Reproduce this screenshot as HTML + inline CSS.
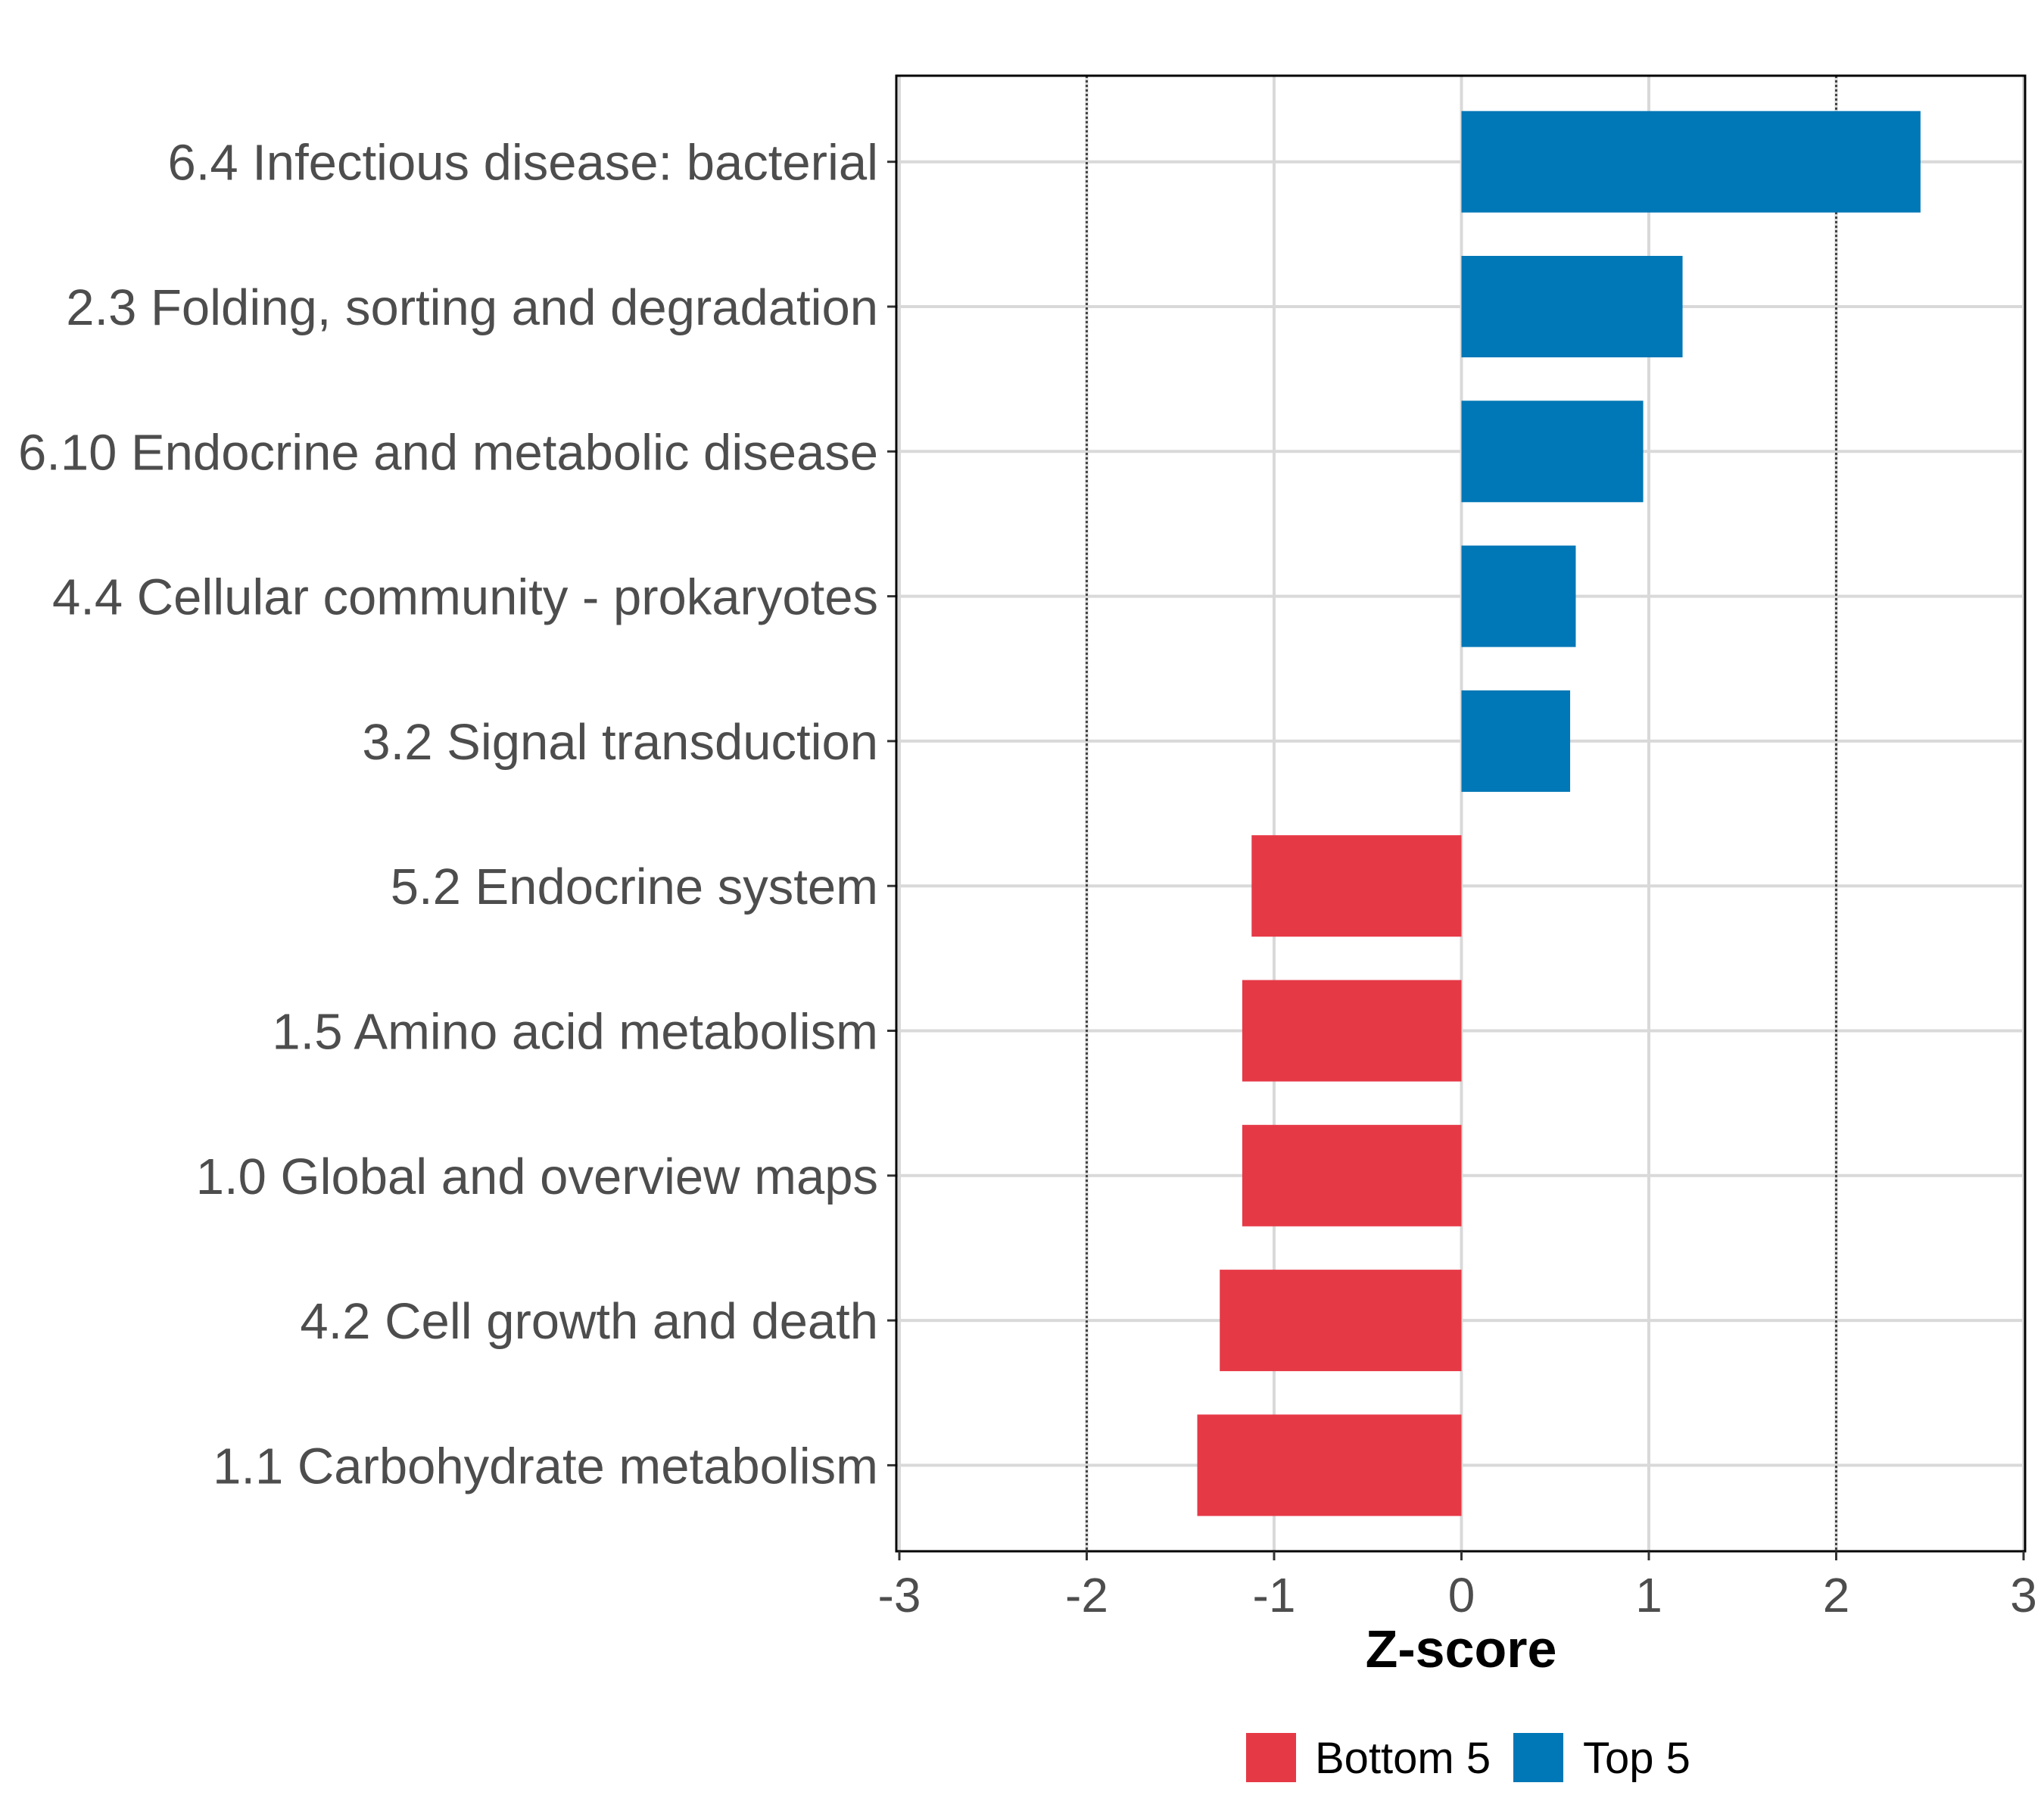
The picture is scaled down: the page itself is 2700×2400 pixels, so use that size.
<!DOCTYPE html>
<html><head><meta charset="utf-8"><style>
html,body{margin:0;padding:0;background:#fff}
svg{display:block}
text{font-family:"Liberation Sans",sans-serif}
</style></head><body>
<svg id="chart" width="2700" height="2400" viewBox="0 0 2700 2400" xmlns="http://www.w3.org/2000/svg">
<rect width="2700" height="2400" fill="#fff"/>
<g id="grid"></g>
<g id="bars"></g>
<g id="axes"></g>
<text x="1930" y="2202" font-size="70" font-weight="bold" text-anchor="middle" fill="#000">Z-score</text>
<g>
<rect x="1646" y="2289" width="66" height="65" fill="#E63946"/>
<text x="1737" y="2342" font-size="58" fill="#000">Bottom 5</text>
<rect x="1999" y="2289" width="66" height="65" fill="#0077B6"/>
<text x="2091" y="2342" font-size="58" fill="#000">Top 5</text>
</g>
</svg>
<script>
const categories = ["6.4 Infectious disease: bacterial","2.3 Folding, sorting and degradation","6.10 Endocrine and metabolic disease","4.4 Cellular community - prokaryotes","3.2 Signal transduction","5.2 Endocrine system","1.5 Amino acid metabolism","1.0 Global and overview maps","4.2 Cell growth and death","1.1 Carbohydrate metabolism"];
const values = [2.45, 1.18, 0.97, 0.61, 0.58, -1.12, -1.17, -1.17, -1.29, -1.41];
const groups = ["Top 5","Top 5","Top 5","Top 5","Top 5","Bottom 5","Bottom 5","Bottom 5","Bottom 5","Bottom 5"];
const xTicks = [-3, -2, -1, 0, 1, 2, 3];
const xTickLabels = ["-3","-2","-1","0","1","2","3"];
const dottedLines = [-2, 2];

const NS = "http://www.w3.org/2000/svg";
const PL = 1184, PR = 2675, PT = 100, PB = 2049;
const x = v => 1188 + (v + 3) * (2673 - 1188) / 6;
const y = i => 213.7 + i * 191.3;
const barH = 134;
function mk(tag, attrs, parent) {
  const e = document.createElementNS(NS, tag);
  for (const k in attrs) e.setAttribute(k, attrs[k]);
  parent.appendChild(e);
  return e;
}
const grid = document.getElementById('grid');
const bars = document.getElementById('bars');
const axes = document.getElementById('axes');
xTicks.forEach((t) => {
  const l = mk('line', {x1: x(t), x2: x(t), y1: PT, y2: PB, stroke: '#d9d9d9', 'stroke-width': 4}, grid);
  
  
});
categories.forEach((c, i) => {
  const l = mk('line', {x1: PL, x2: PR, y1: y(i), y2: y(i), stroke: '#d9d9d9', 'stroke-width': 4}, grid);
  
  
});
dottedLines.forEach(d => {
  const l = mk('line', {x1: x(d), x2: x(d), y1: PT, y2: PB, stroke: '#444', 'stroke-width': 3, 'stroke-dasharray': '3,3'}, grid);
  
  
});
categories.forEach((c, i) => {
  const v = values[i];
  const r = mk('rect', {x: Math.min(x(0), x(v)), y: y(i) - barH / 2, width: Math.abs(x(v) - x(0)), height: barH, fill: groups[i] === 'Top 5' ? '#0077B6' : '#E63946'}, bars);
  
  
  const tk = mk('line', {x1: PL - 12, x2: PL, y1: y(i), y2: y(i), stroke: '#333', 'stroke-width': 3}, axes);
  
  
  const t = mk('text', {x: 1160, y: y(i) + 24, 'font-size': 67, 'text-anchor': 'end', fill: '#4d4d4d'}, axes);
  t.textContent = c;
  
  
});
const border = mk('rect', {x: PL, y: PT, width: PR - PL, height: PB - PT, fill: 'none', stroke: '#000', 'stroke-width': 3}, axes);


xTicks.forEach((t, i) => {
  const tk = mk('line', {x1: x(t), x2: x(t), y1: PB, y2: PB + 12, stroke: '#333', 'stroke-width': 3}, axes);
  
  
  const lb = mk('text', {x: x(t), y: 2129, 'font-size': 64, 'text-anchor': 'middle', fill: '#4d4d4d'}, axes);
  lb.textContent = xTickLabels[i];
  
  
});
</script>
</body></html>
